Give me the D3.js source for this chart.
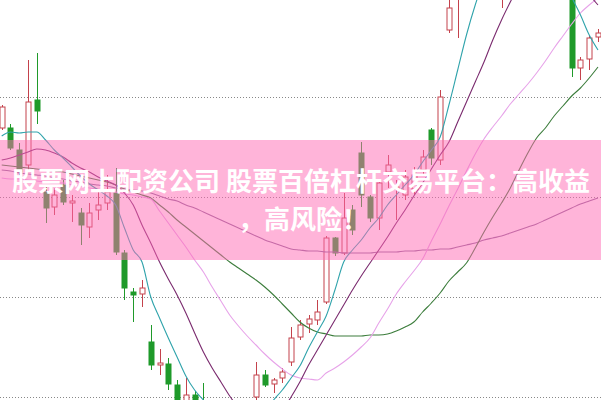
<!DOCTYPE html>
<html><head><meta charset="utf-8">
<script src="https://cdn.jsdelivr.net/npm/d3@7"></script>
<style>body{margin:0;background:#fff}svg{display:block}</style>
</head><body><div id="c"></div>
<script>
// price units: dotted grid lines at 10, 11, 12, 13
const days = d3.range(69);
const open  = [12.69,12.69,12.47,12.32,12.97,12.05,11.90,12.12,11.94,11.84,11.70,11.87,11.94,12.04,11.44,11.05,11.03,10.55,10.32,10.33,10.12,9.87,10.02,9.92,9.67,9.50,9.58,9.50,9.58,10.00,10.22,10.13,10.19,10.35,10.60,10.73,10.77,10.95,11.59,11.44,11.87,12.44,12.00,11.79,12.25,12.08,12.02,12.08,12.27,12.67,12.37,13.67,14.05,14.10,14.30,14.50,14.40,14.10,14.30,14.60,14.80,14.70,14.90,14.80,14.90,14.30,13.29,13.38,13.60];
const close = [12.90,12.49,12.25,12.95,12.86,11.89,12.02,11.95,11.96,11.72,11.84,11.92,12.05,11.45,11.09,11.02,11.09,10.32,10.34,10.13,9.87,10.02,9.77,9.67,9.52,9.58,9.50,9.60,9.70,10.22,10.12,10.17,10.25,10.59,10.72,10.78,10.85,11.59,11.44,11.79,11.67,12.02,11.79,12.14,12.32,12.10,12.20,12.22,12.40,12.39,13.00,13.89,14.30,14.35,14.55,14.40,14.70,14.30,14.60,14.80,14.70,14.90,14.80,14.90,14.60,13.29,13.37,13.59,13.64];
const high  = [12.92,12.73,12.54,13.37,13.44,12.12,12.09,12.17,12.02,11.89,11.94,12.05,12.22,12.29,11.47,11.09,11.17,10.72,10.48,10.39,10.17,10.19,10.06,10.14,9.75,9.65,9.62,9.68,9.78,10.35,10.27,10.19,10.29,10.70,10.77,10.82,10.97,11.61,11.60,12.04,11.92,12.55,12.02,12.17,12.42,12.17,12.27,12.30,12.47,12.69,13.07,13.97,14.40,14.45,14.65,14.60,14.80,14.40,14.70,14.90,14.95,15.00,15.00,15.00,15.00,14.40,13.40,13.62,13.68];
const low   = [12.67,12.47,12.19,12.27,12.73,11.74,11.82,11.92,11.75,11.52,11.59,11.77,11.87,11.42,10.97,10.75,10.90,10.27,10.22,10.07,9.82,9.82,9.72,9.57,9.45,9.45,9.42,9.45,9.55,9.97,10.10,10.04,10.14,10.31,10.57,10.64,10.72,10.93,11.41,11.42,11.62,11.90,11.75,11.67,12.09,11.77,11.97,12.02,12.22,12.32,12.32,13.64,13.59,14.00,14.20,14.30,14.30,13.89,14.20,14.50,14.60,14.60,14.70,14.60,14.50,13.20,13.17,13.27,13.55];
const ma5   = [12.61,12.65,12.64,12.65,12.65,12.57,12.47,12.39,12.30,12.21,12.13,12.07,12.01,11.92,11.69,11.47,11.35,11.00,10.79,10.59,10.40,10.21,10.07,9.97,9.87,9.79,9.74,9.71,9.73,9.79,9.87,9.97,10.07,10.19,10.31,10.49,10.65,10.81,11.07,11.35,11.47,11.57,11.69,11.79,11.92,12.02,12.12,12.22,12.35,12.47,12.60,12.92,13.27,13.62,13.92,14.17,14.37,14.47,14.52,14.57,14.57,14.57,14.52,14.42,14.22,14.00,13.82,13.62,13.47];
const ma10  = [12.37,12.39,12.42,12.45,12.48,12.47,12.44,12.40,12.34,12.29,12.25,12.20,12.16,12.12,12.04,11.92,11.72,11.54,11.35,11.18,11.02,10.84,10.64,10.45,10.29,10.15,10.01,9.89,9.79,9.73,9.72,9.77,9.87,10.00,10.15,10.32,10.47,10.62,10.77,10.92,11.07,11.21,11.34,11.47,11.60,11.74,11.87,12.01,12.14,12.28,12.42,12.55,12.75,12.95,13.15,13.35,13.57,13.77,13.95,14.12,14.25,14.32,14.35,14.35,14.30,14.22,14.12,14.02,13.92];
const ma20  = [12.19,12.18,12.18,12.17,12.16,12.15,12.14,12.14,12.12,12.11,12.09,12.08,12.06,12.05,12.03,12.02,12.00,11.98,11.86,11.74,11.62,11.50,11.37,11.25,11.10,10.96,10.82,10.71,10.61,10.52,10.43,10.35,10.28,10.22,10.19,10.18,10.17,10.24,10.29,10.35,10.42,10.50,10.59,10.74,10.88,11.03,11.15,11.26,11.38,11.56,11.73,11.91,12.08,12.26,12.43,12.58,12.70,12.81,12.93,13.03,13.13,13.24,13.36,13.49,13.61,13.73,13.84,13.92,13.99];
const ma30  = [12.32,12.31,12.30,12.29,12.28,12.27,12.26,12.25,12.23,12.21,12.19,12.17,12.15,12.12,12.08,12.05,12.02,11.99,11.92,11.85,11.77,11.70,11.63,11.56,11.49,11.42,11.35,11.29,11.23,11.17,11.10,11.02,10.93,10.84,10.75,10.69,10.65,10.63,10.61,10.61,10.61,10.61,10.62,10.62,10.63,10.66,10.70,10.75,10.85,10.94,11.04,11.16,11.25,11.34,11.49,11.65,11.80,11.94,12.09,12.27,12.44,12.59,12.69,12.81,12.91,13.01,13.09,13.19,13.30];
const ma60  = [12.27,12.26,12.24,12.23,12.22,12.21,12.19,12.18,12.16,12.15,12.13,12.12,12.11,12.09,12.08,12.07,12.06,12.04,12.01,11.98,11.96,11.92,11.89,11.85,11.81,11.77,11.73,11.69,11.65,11.61,11.57,11.54,11.51,11.48,11.47,11.46,11.46,11.45,11.45,11.44,11.44,11.44,11.44,11.45,11.45,11.45,11.46,11.46,11.47,11.47,11.48,11.48,11.50,11.52,11.54,11.57,11.59,11.61,11.64,11.67,11.70,11.73,11.77,11.81,11.85,11.89,11.93,11.96,11.99];
const gridTicks = [10, 11, 12, 13];
const line1 = "股票网上配资公司 股票百倍杠杆交易平台：高收益";
const line2 = "，高风险！";

const W = 601, H = 400;
const svg = d3.select("#c").append("svg").attr("width", W).attr("height", H);
const x = d3.scalePoint().domain(days).range([1.7, 598]);
const y = d3.scaleLinear().domain([10, 13]).range([397, 97]);

svg.append("g").selectAll("line").data(gridTicks).join("line")
  .attr("x1", 0).attr("x2", W)
  .attr("y1", d => Math.round(y(d)) + 0.5).attr("y2", d => Math.round(y(d)) + 0.5)
  .attr("stroke", "#888").attr("stroke-dasharray", "1,2");

const up = "#c4424c", down = "#1f9a2a";
const bw = 5;
const cg = svg.append("g");
days.forEach(i => {
  const isUp = close[i] >= open[i];
  const col = isUp ? up : down;
  const cx = Math.round(x(i)) + 0.5;
  cg.append("line").attr("x1", cx).attr("x2", cx)
    .attr("y1", y(high[i])).attr("y2", y(low[i])).attr("stroke", col);
  const top = y(Math.max(open[i], close[i])), bot = y(Math.min(open[i], close[i]));
  cg.append("rect").attr("x", cx - bw / 2).attr("y", top)
    .attr("width", bw).attr("height", Math.max(1, bot - top))
    .attr("fill", isUp ? "#fff" : down).attr("stroke", col);
});

const lg = d3.line().x((d, i) => x(i)).y(d => y(d)).curve(d3.curveMonotoneX);
[[ma60, "#8e6a9a"], [ma30, "#3c7d3c"], [ma20, "#e7a3e9"], [ma10, "#7a2a6e"], [ma5, "#2fa3ab"]]
  .forEach(([arr, c]) => svg.append("path").datum(arr).attr("d", lg)
    .attr("fill", "none").attr("stroke", c).attr("stroke-width", 1.1));

svg.append("rect").attr("x", 0).attr("y", 140).attr("width", W).attr("height", 120)
  .attr("fill", "#ff69b4").attr("opacity", 0.5);

const tg = svg.append("g").attr("fill", "#fff").attr("font-weight", "bold")
  .attr("font-family", "'Noto Sans CJK SC', sans-serif").attr("font-size", 26)
  .attr("text-anchor", "middle");
tg.append("text").attr("x", 301).attr("y", 191).text(line1);
tg.append("text").attr("x", 303).attr("y", 229).text(line2);
</script></body></html>
